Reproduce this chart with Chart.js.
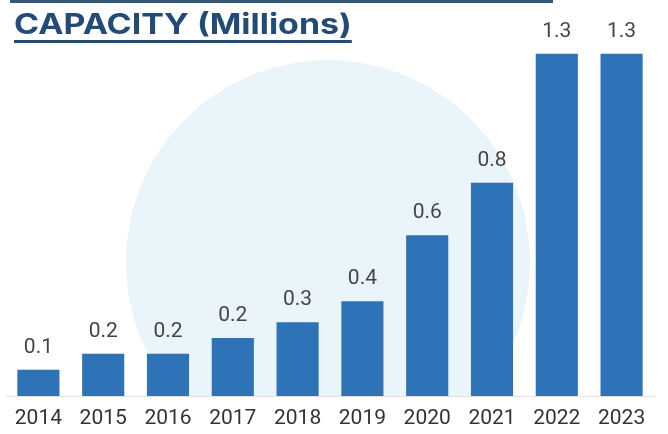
<!DOCTYPE html>
<html>
<head>
<meta charset="utf-8">
<script src="https://cdn.jsdelivr.net/npm/chart.js@4.4.1/dist/chart.umd.min.js"></script>
<style>
    html, body {
        margin: 0;
        padding: 0;
        background: #ffffff;
    }
    .wrap {
        position: relative;
        width: 668px;
        height: 434px;
        overflow: hidden;
        font-family: Roboto, "Noto Sans", sans-serif;
    }
    .top-rule {
        position: absolute;
        left: 10px;
        top: 0;
        width: 543px;
        height: 3px;
        background: #34587e;
    }
    .backdrop {
        position: absolute;
        left: 0;
        top: 0;
        width: 668px;
        height: 396px;
        overflow: hidden;
    }
    .backdrop .disc {
        position: absolute;
        left: 126px;
        top: 60px;
        width: 404px;
        height: 404px;
        border-radius: 50%;
        background: #eaf5fb;
    }
    .title {
        position: absolute;
        left: 14px;
        top: 7px;
        font-family: Inter, Roboto, sans-serif;
        font-size: 28px;
        font-weight: 700;
        color: #234b78;
        text-decoration: underline;
        text-decoration-thickness: 3px;
        text-underline-offset: 6px;
        white-space: nowrap;
        transform-origin: left top;
    }
    #chart {
        position: absolute;
        left: 0;
        top: 0;
    }
</style>
</head>
<body>
<div class="wrap">
    <div class="top-rule"></div>
    <div class="backdrop"><div class="disc"></div></div>
    <canvas id="chart" width="668" height="434"></canvas>
    <div class="title" id="title">CAPACITY (Millions)</div>
</div>
<script>
// Yearly capacity, in millions
const years = ['2014', '2015', '2016', '2017', '2018', '2019', '2020', '2021', '2022', '2023'];
const capacity = [0.1, 0.16, 0.16, 0.22, 0.28, 0.36, 0.61, 0.81, 1.3, 1.3];

const barColor = '#2e72b8';
const labelColor = '#454545';

// stretch the heading to its 338px width
const title = document.getElementById('title');
title.style.transform = `scaleX(${338 / title.offsetWidth})`;

// Value labels above each bar
const valueLabels = {
    id: 'valueLabels',
    afterDatasetsDraw(chart) {
        const ctx = chart.ctx;
        const meta = chart.getDatasetMeta(0);
        ctx.save();
        ctx.font = '21px Roboto, "Noto Sans", sans-serif';
        ctx.fillStyle = labelColor;
        ctx.textAlign = 'center';
        ctx.textBaseline = 'alphabetic';
        meta.data.forEach((bar, i) => {
            const v = chart.data.datasets[0].data[i];
            ctx.fillText(v.toFixed(1), bar.x, bar.y - 17);
        });
        ctx.restore();
    }
};

new Chart(document.getElementById('chart'), {
    type: 'bar',
    data: {
        labels: years,
        datasets: [{
            data: capacity,
            backgroundColor: barColor,
            borderWidth: 0,
            barPercentage: 0.65,
            categoryPercentage: 1
        }]
    },
    options: {
        responsive: false,
        animation: false,
        layout: {
            padding: { left: 6, right: 14, top: 1, bottom: 0 }
        },
        plugins: {
            legend: { display: false },
            tooltip: { enabled: false }
        },
        scales: {
            x: {
                grid: { display: false, drawTicks: false },
                border: { display: true, color: '#e2e2e2', width: 1 },
                ticks: {
                    color: '#333333',
                    padding: 10,
                    font: { family: 'Roboto, "Noto Sans", sans-serif', size: 21 }
                },
                afterFit(scale) {
                    scale.height = 38;
                }
            },
            y: {
                display: false,
                min: 0,
                max: 1.5
            }
        }
    },
    plugins: [valueLabels]
});
</script>
</body>
</html>
